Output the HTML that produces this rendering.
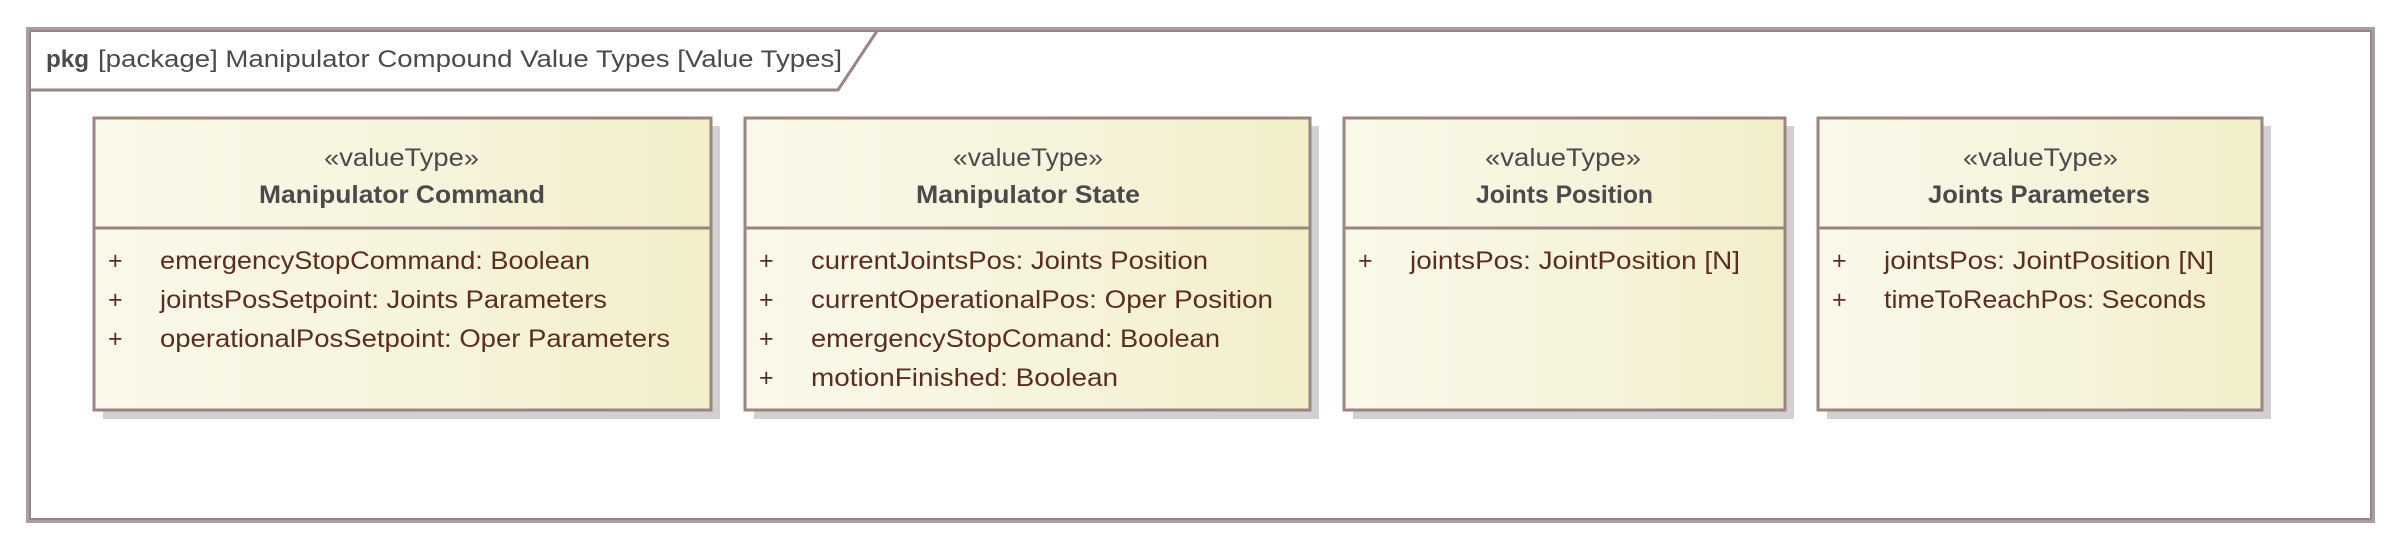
<!DOCTYPE html>
<html><head><meta charset="utf-8"><style>html,body{margin:0;padding:0;background:#fff;}svg{display:block}</style></head>
<body>
<svg width="2403" height="552" viewBox="0 0 2403 552" xmlns="http://www.w3.org/2000/svg">
<defs>
<linearGradient id="g" x1="0" y1="0" x2="1" y2="0">
<stop offset="0" stop-color="#faf8e9"/><stop offset="0.6" stop-color="#f6f3db"/><stop offset="1" stop-color="#f2eec8"/>
</linearGradient>
</defs>
<rect x="28" y="29" width="2345" height="492" fill="#fff" stroke="#a8a0a0" stroke-width="4"/>
<rect x="30" y="31" width="2341" height="488" fill="none" stroke="#9b8582" stroke-width="2"/>
<polyline points="30,90 838,90 877,31" fill="none" stroke="#9b8582" stroke-width="3"/>
<g font-family="Liberation Sans, sans-serif" font-size="24" fill="#4a4a4a">
<text x="46" y="67" font-weight="bold" textLength="43" lengthAdjust="spacingAndGlyphs">pkg</text>
<text x="98" y="67" textLength="744" lengthAdjust="spacingAndGlyphs">[package] Manipulator Compound Value Types [Value Types]</text>
</g>
<g fill="#d2d0d0">
<rect x="103" y="126" width="617" height="293"/>
<rect x="754" y="126" width="565" height="293"/>
<rect x="1353" y="126" width="441" height="293"/>
<rect x="1827" y="126" width="444" height="293"/>
</g>
<g fill="url(#g)" stroke="#9b8582" stroke-width="3">
<rect x="94" y="118" width="617" height="292"/>
<rect x="745" y="118" width="565" height="292"/>
<rect x="1344" y="118" width="441" height="292"/>
<rect x="1818" y="118" width="444" height="292"/>
</g>
<g stroke="#9b8582" stroke-width="3">
<line x1="94" y1="228" x2="711" y2="228"/>
<line x1="745" y1="228" x2="1310" y2="228"/>
<line x1="1344" y1="228" x2="1785" y2="228"/>
<line x1="1818" y1="228" x2="2262" y2="228"/>
</g>
<g font-family="Liberation Sans, sans-serif" font-size="25" fill="#4a4a4a">
<text x="324" y="166" textLength="155" lengthAdjust="spacingAndGlyphs">«valueType»</text>
<text x="259" y="203" font-weight="bold" textLength="286" lengthAdjust="spacingAndGlyphs">Manipulator Command</text>
<text x="953" y="166" textLength="150" lengthAdjust="spacingAndGlyphs">«valueType»</text>
<text x="916" y="203" font-weight="bold" textLength="224" lengthAdjust="spacingAndGlyphs">Manipulator State</text>
<text x="1485" y="166" textLength="156" lengthAdjust="spacingAndGlyphs">«valueType»</text>
<text x="1476" y="203" font-weight="bold" textLength="177" lengthAdjust="spacingAndGlyphs">Joints Position</text>
<text x="1963" y="166" textLength="155" lengthAdjust="spacingAndGlyphs">«valueType»</text>
<text x="1928" y="203" font-weight="bold" textLength="222" lengthAdjust="spacingAndGlyphs">Joints Parameters</text>
</g>
<g font-family="Liberation Sans, sans-serif" font-size="25" fill="#5c2c22">
<text x="108" y="269">+</text><text x="160" y="269" textLength="430" lengthAdjust="spacingAndGlyphs">emergencyStopCommand: Boolean</text>
<text x="108" y="308">+</text><text x="160" y="308" textLength="447" lengthAdjust="spacingAndGlyphs">jointsPosSetpoint: Joints Parameters</text>
<text x="108" y="347">+</text><text x="160" y="347" textLength="510" lengthAdjust="spacingAndGlyphs">operationalPosSetpoint: Oper Parameters</text>

<text x="759" y="269">+</text><text x="811" y="269" textLength="397" lengthAdjust="spacingAndGlyphs">currentJointsPos: Joints Position</text>
<text x="759" y="308">+</text><text x="811" y="308" textLength="462" lengthAdjust="spacingAndGlyphs">currentOperationalPos: Oper Position</text>
<text x="759" y="347">+</text><text x="811" y="347" textLength="409" lengthAdjust="spacingAndGlyphs">emergencyStopComand: Boolean</text>
<text x="759" y="386">+</text><text x="811" y="386" textLength="307" lengthAdjust="spacingAndGlyphs">motionFinished: Boolean</text>

<text x="1358" y="269">+</text><text x="1410" y="269" textLength="330" lengthAdjust="spacingAndGlyphs">jointsPos: JointPosition [N]</text>

<text x="1832" y="269">+</text><text x="1884" y="269" textLength="330" lengthAdjust="spacingAndGlyphs">jointsPos: JointPosition [N]</text>
<text x="1832" y="308">+</text><text x="1884" y="308" textLength="322" lengthAdjust="spacingAndGlyphs">timeToReachPos: Seconds</text>
</g>
</svg>
</body></html>
